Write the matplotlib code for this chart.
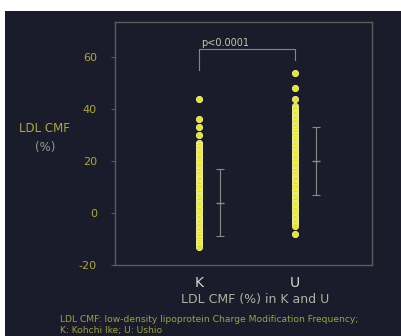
import matplotlib.pyplot as plt
from matplotlib.patches import Rectangle

groups = ["K", "U"]
k_vals = [44, 36, 33, 30, 27, 26, 25, 24, 23, 22, 21, 20, 19, 18, 17, 16, 15,
          14, 13, 12, 11, 10, 9, 8, 7, 6, 5, 4, 3, 2, 1, 0, -1, -2, -3, -4,
          -5, -6, -7, -8, -9, -10, -11, -12, -13]
u_vals = [54, 48, 44, 41, 40, 39, 38, 37, 36, 35, 34, 33, 32, 31, 30, 29, 28,
          27, 26, 25, 24, 23, 22, 21, 20, 19, 18, 17, 16, 15, 14, 13, 12, 11,
          10, 9, 8, 7, 6, 5, 4, 3, 2, 1, 0, -1, -2, -3, -4, -5, -8]
means = [4, 20]
sds = [13, 13]
yticks = [-20, 0, 20, 40, 60]

bg = "#1b1c2b"
dot = "#e6e61e"
olive = "#b0a832"

fig = plt.figure(figsize=(4.02, 3.36), dpi=100)
fig.patch.set_facecolor("white")
fig.patches.append(Rectangle((5 / 402, 0), 1, 1 - 11 / 336, transform=fig.transFigure,
                             facecolor=bg, edgecolor="none", zorder=-10))

ax = fig.add_axes([0.286, 0.211, 0.639, 0.724])
ax.set_facecolor(bg)
ax.set_xlim(-0.875, 1.80)
ax.set_ylim(-20, 73.5)

for i, vals in enumerate([k_vals, u_vals]):
    ax.scatter([i] * len(vals), vals, s=20, color=dot, edgecolors="#f4f4a0",
               linewidths=0.6, zorder=3)
    ax.errorbar(i + 0.22, means[i], yerr=sds[i], fmt="_", color="#8a8a80",
                ecolor="#8a8a80", elinewidth=0.8, capsize=3, capthick=0.8,
                markersize=6, zorder=2)

# significance bracket
ax.plot([0, 0, 1, 1], [55, 63, 63, 59], color="#8a8a60", lw=0.8)
ax.text(0.02, 63.5, "p<0.0001", color="#c8c8a0", fontsize=7, ha="left", va="bottom")

for s in ax.spines.values():
    s.set_color("#5a5a5a")
    s.set_linewidth(1)
ax.set_yticks(yticks)
ax.set_yticklabels([str(t) for t in yticks], color=olive, fontsize=8)
ax.tick_params(axis="y", colors="#5a5a5a", length=3, pad=10, labelcolor=olive)
ax.set_xticks([0, 1])
ax.set_xticklabels(groups, color="#d8d8d0", fontsize=10)
ax.tick_params(axis="x", length=0, pad=8)

fig.text(44 / 402, 1 - 129 / 336, "LDL CMF", color=olive, fontsize=8.5,
         ha="center", va="center")
fig.text(45 / 402, 1 - 148 / 336, "(%)", color="#9a9a90", fontsize=8.5,
         ha="center", va="center")
fig.text(255 / 402, 1 - 299 / 336, "LDL CMF (%) in K and U", color="#b0b0a0",
         fontsize=9, ha="center", va="center")
fig.text(60 / 402, 1 - 320 / 336,
         "LDL CMF: low-density lipoprotein Charge Modification Frequency;",
         color="#9ea23c", fontsize=6.6, ha="left", va="center")
fig.text(60 / 402, 1 - 331 / 336, "K: Kohchi Ike; U: Ushio",
         color="#9ea23c", fontsize=6.6, ha="left", va="center")

fig.savefig("out.png", dpi=100, facecolor=fig.get_facecolor())
